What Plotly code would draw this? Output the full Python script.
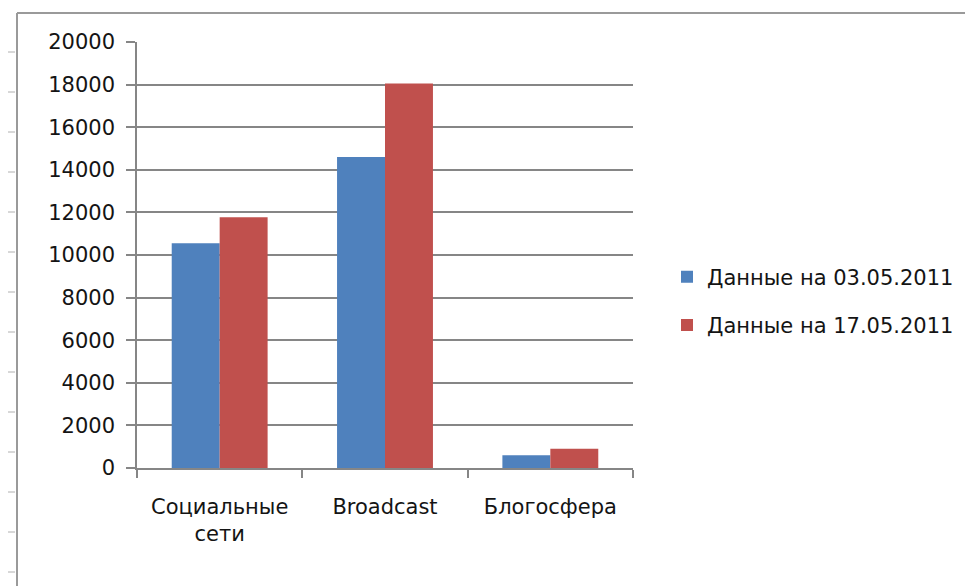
import plotly.graph_objects as go

categories = ["Социальные<br>сети", "Broadcast", "Блогосфера"]
series_names = ["Данные на 03.05.2011", "Данные на 17.05.2011"]
values_0305 = [10550, 14600, 600]
values_1705 = [11770, 18050, 900]
y_ticks = [0, 2000, 4000, 6000, 8000, 10000, 12000, 14000, 16000, 18000, 20000]

colors = ["#4F81BD", "#C0504D"]
FONT = "DejaVu Sans"
OFF = 8  # page body margin offset
W, H = 973 - OFF, 586 - OFF
# plot area in screen pixels
L, R, T, B = 137, 633, 42, 468

fig = go.Figure()
for i, (name, vals) in enumerate(zip(series_names, [values_0305, values_1705])):
    fig.add_trace(go.Bar(x=categories, y=vals, name=name, marker_color=colors[i],
                         marker_line_width=0, legendgroup=f"g{i}"))

def px(x):
    return (x - L) / (R - L)
def py(y):
    return (B - y) / (B - T)

shapes = []
shapes.append(dict(type="line", xref="paper", yref="paper", x0=px(17), x1=px(980), y0=py(13), y1=py(13),
                   line=dict(color="#9a9a9a", width=2)))
shapes.append(dict(type="line", xref="paper", yref="paper", x0=px(17), x1=px(17), y0=py(13), y1=py(600),
                   line=dict(color="#9a9a9a", width=2)))
for k in range(14):
    yy = 52 + 40 * k
    shapes.append(dict(type="line", xref="paper", yref="paper", x0=px(8), x1=px(15), y0=py(yy), y1=py(yy),
                       line=dict(color="#b0b0b0", width=1)))

fs = 21
txt = "#141414"
fig.update_layout(
    width=W, height=H,
    margin=dict(l=L - OFF, r=973 - R, t=T - OFF, b=586 - B, pad=0),
    paper_bgcolor="white", plot_bgcolor="white",
    font=dict(family=FONT, size=fs, color=txt),
    barmode="group", bargap=0.42, bargroupgap=0,
    showlegend=True,
    legend=dict(x=px(667), xanchor="left", y=py(301), yanchor="middle",
                font=dict(family=FONT, size=fs, color=txt),
                tracegroupgap=18, bgcolor="rgba(0,0,0,0)"),
    shapes=shapes,
    xaxis=dict(showgrid=False, showline=True, linecolor="#868686", linewidth=1.5,
               ticks="outside", tickson="boundaries", ticklen=8, tickcolor="#868686", tickwidth=1.5,
               ticklabelstandoff=19, tickfont=dict(family=FONT, size=fs, color=txt),
               fixedrange=True),
    yaxis=dict(range=[0, 20000], tickvals=y_ticks, ticktext=[str(v) for v in y_ticks],
               showgrid=True, gridcolor="#868686", gridwidth=1.5,
               showline=True, linecolor="#868686", linewidth=1.5,
               ticks="outside", ticklen=9, tickcolor="#868686", tickwidth=1.5,
               ticklabelstandoff=7, tickfont=dict(family=FONT, size=fs, color=txt),
               zeroline=False, fixedrange=True),
)

fig.write_html("out.html")
